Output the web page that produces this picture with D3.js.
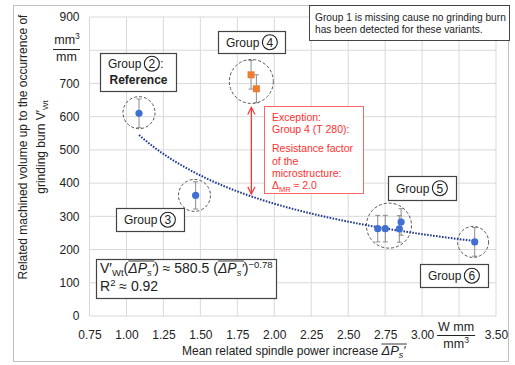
<!DOCTYPE html>
<html>
<head>
<meta charset="utf-8">
<script src="https://cdn.jsdelivr.net/npm/d3@7"></script>
<style>
  body { margin: 0; background: #fff; }
  text { font-family: "Liberation Sans", Arial, sans-serif; }
</style>
</head>
<body>
<div id="chart"></div>
<script>
// x ticks and y ticks of the chart (3.25 and 800 are replaced by the unit labels)
const xTicks = [0.75, 1.00, 1.25, 1.50, 1.75, 2.00, 2.25, 2.50, 2.75, 3.00, 3.25, 3.50];
const xTickLabels = ['0.75', '1.00', '1.25', '1.50', '1.75', '2.00', '2.25', '2.50', '2.75', '3.00', '', '3.50'];
const yTicks = [0, 100, 200, 300, 400, 500, 600, 700, 800, 900];
const yTickLabels = ['0', '100', '200', '300', '400', '500', '600', '700', '', '900'];

// measured points: spindle power increase, machined volume, error (+/-)
const bluePower = [1.085, 1.468, 2.700, 2.751, 2.846, 2.858, 3.356];
const blueVolume = [610, 363, 263, 263, 262, 283, 223];
const blueErr = [43, 41, 40, 40, 40, 40, 43];

// group 4 (T 280) - exception
const orangePower = [1.843, 1.879];
const orangeVolume = [726, 684];
const orangeErr = [43, 42];

// fit  V'Wt = 580.5 * P^-0.78
const fitA = 580.5;
const fitB = -0.78;
const fitRange = [1.085, 3.356];

// dashed group circles (center in data units)
const groupCircleX = [1.085, 1.46, 1.845, 2.776, 3.345];
const groupCircleY = [612, 363, 706, 272, 223];
const groupCircleR = [16, 16, 22, 22.5, 15.5];

const width = 515, height = 365;
const margin = { top: 17, right: 19, bottom: 49, left: 89.5 };

const svg = d3.select('#chart').append('svg')
  .attr('width', width)
  .attr('height', height);

const defs = svg.append('defs');
defs.append('marker')
  .attr('id', 'arrow')
  .attr('viewBox', '0 0 10 10')
  .attr('refX', 9).attr('refY', 5)
  .attr('markerWidth', 9).attr('markerHeight', 9)
  .attr('markerUnits', 'userSpaceOnUse')
  .attr('orient', 'auto-start-reverse')
  .append('path')
  .attr('d', 'M1,1 L9,5 L1,9')
  .attr('fill', 'none')
  .attr('stroke', '#ff3333')
  .attr('stroke-width', 1.3);

// outer frame
svg.append('rect')
  .attr('x', 13.5).attr('y', 5.5)
  .attr('width', 495).attr('height', 356)
  .attr('fill', 'none')
  .attr('stroke', '#c0c0c0');

const x = d3.scaleLinear().domain([0.75, 3.5]).range([margin.left, width - margin.right]);
const y = d3.scaleLinear().domain([0, 900]).range([height - margin.bottom, margin.top]);

// gridlines
svg.append('g')
  .selectAll('line')
  .data(xTicks)
  .join('line')
  .attr('x1', d => x(d)).attr('x2', d => x(d))
  .attr('y1', y(0)).attr('y2', y(900))
  .attr('stroke', '#d9d9d9');

svg.append('g')
  .selectAll('line')
  .data(yTicks)
  .join('line')
  .attr('x1', x(0.75)).attr('x2', x(3.5))
  .attr('y1', d => y(d)).attr('y2', d => y(d))
  .attr('stroke', '#d9d9d9');

// axes (labels only, lines are the grid)
const xAxis = svg.append('g')
  .attr('transform', `translate(0, ${y(0)})`)
  .call(d3.axisBottom(x).tickValues(xTicks).tickSize(0).tickPadding(14)
    .tickFormat((d, i) => xTickLabels[i]));
const yAxis = svg.append('g')
  .attr('transform', `translate(${x(0.75)}, 0)`)
  .call(d3.axisLeft(y).tickValues(yTicks).tickSize(0).tickPadding(10)
    .tickFormat((d, i) => yTickLabels[i]));
[xAxis, yAxis].forEach(a => {
  a.select('.domain').remove();
  a.selectAll('text')
    .attr('font-family', '"Liberation Sans", Arial, sans-serif')
    .attr('font-size', 12)
    .attr('fill', '#222');
});

// lays out a run of text pieces from left to right
function richText(g, x0, y0, pieces, anchor) {
  const grp = g.append('g');
  let cx = x0;
  pieces.forEach(p => {
    const t = grp.append('text')
      .attr('x', cx)
      .attr('y', y0 + (p.dy || 0))
      .attr('font-family', p.family || '"Liberation Sans", Arial, sans-serif')
      .attr('font-size', p.size || 12)
      .attr('font-style', p.italic ? 'italic' : 'normal')
      .attr('font-weight', p.bold ? 'bold' : 'normal')
      .attr('fill', p.color || '#222')
      .text(p.t.replace(/ /g, '\u00A0'));
    const w = t.node().getComputedTextLength();
    if (p.overline) {
      grp.append('line')
        .attr('x1', cx).attr('x2', cx + w + (p.olExtra || 0))
        .attr('y1', y0 - (p.olY || 11)).attr('y2', y0 - (p.olY || 11))
        .attr('stroke', p.color || '#222').attr('stroke-width', 0.9);
    }
    cx += w + (p.after || 0);
  });
  if (anchor === 'middle') grp.attr('transform', `translate(${-(cx - x0) / 2}, 0)`);
  return grp;
}

// fit curve
const fitPts = d3.range(0, 61).map(i => fitRange[0] + (fitRange[1] - fitRange[0]) * i / 60);
svg.append('path')
  .datum(fitPts)
  .attr('d', d3.line().x(d => x(d)).y(d => y(fitA * Math.pow(d, fitB))))
  .attr('fill', 'none')
  .attr('stroke', '#1f3a93')
  .attr('stroke-width', 2)
  .attr('stroke-dasharray', '1.6,1.4');

// error bars
function errBars(px, py, pe) {
  const g = svg.append('g').attr('stroke', '#8c8c8c').attr('stroke-width', 1);
  px.forEach((p, i) => {
    g.append('line').attr('x1', x(p)).attr('x2', x(p)).attr('y1', y(py[i] - pe[i])).attr('y2', y(py[i] + pe[i]));
    g.append('line').attr('x1', x(p) - 2.5).attr('x2', x(p) + 2.5).attr('y1', y(py[i] - pe[i])).attr('y2', y(py[i] - pe[i]));
    g.append('line').attr('x1', x(p) - 2.5).attr('x2', x(p) + 2.5).attr('y1', y(py[i] + pe[i])).attr('y2', y(py[i] + pe[i]));
  });
}
errBars(bluePower, blueVolume, blueErr);
errBars(orangePower, orangeVolume, orangeErr);

svg.append('g')
  .selectAll('circle')
  .data(bluePower)
  .join('circle')
  .attr('cx', d => x(d))
  .attr('cy', (d, i) => y(blueVolume[i]))
  .attr('r', 3.6)
  .attr('fill', '#3f6fd1');

svg.append('g')
  .selectAll('rect')
  .data(orangePower)
  .join('rect')
  .attr('x', d => x(d) - 3.5)
  .attr('y', (d, i) => y(orangeVolume[i]) - 3.5)
  .attr('width', 7).attr('height', 7)
  .attr('fill', '#ed7d31');

// dashed circles around the groups
svg.append('g')
  .selectAll('circle')
  .data(groupCircleX)
  .join('circle')
  .attr('cx', d => x(d))
  .attr('cy', (d, i) => y(groupCircleY[i]))
  .attr('r', (d, i) => groupCircleR[i])
  .attr('fill', 'none')
  .attr('stroke', '#555')
  .attr('stroke-width', 1)
  .attr('stroke-dasharray', '3,2');

// red double arrow (group 4 offset)
svg.append('line')
  .attr('x1', x(1.845)).attr('x2', x(1.845))
  .attr('y1', y(628)).attr('y2', y(367))
  .attr('stroke', '#ff3333')
  .attr('stroke-width', 1.3)
  .attr('marker-start', 'url(#arrow)')
  .attr('marker-end', 'url(#arrow)');

// red exception box
svg.append('rect')
  .attr('x', 264.5).attr('y', 106.5).attr('width', 99).attr('height', 87)
  .attr('fill', '#fff').attr('stroke', '#ff6666');
const redLines = ['Exception:', 'Group 4 (T 280):', 'Resistance factor', 'of the', 'microstructure:'];
const redY = [121, 133, 152, 164.5, 177];
redLines.forEach((t, i) => {
  svg.append('text').attr('x', 272).attr('y', redY[i])
    .attr('font-size', 10.5).attr('fill', '#ff3030').text(t);
});
richText(svg, 272, 189, [
  { t: 'Δ', size: 10.5, color: '#ff3030' },
  { t: 'MR', size: 7.5, dy: 2.5, color: '#ff3030' },
  { t: ' ≈ 2.0', size: 10.5, color: '#ff3030' }
]);

// "group 1 missing" note
svg.append('rect')
  .attr('x', 309.5).attr('y', 5.5).attr('width', 200).attr('height', 35)
  .attr('fill', '#fff').attr('stroke', '#444');
svg.append('text').attr('x', 315).attr('y', 20.5).attr('font-size', 10.2).attr('fill', '#222')
  .text('Group 1 is missing cause no grinding burn');
svg.append('text').attr('x', 315).attr('y', 33).attr('font-size', 10.2).attr('fill', '#222')
  .text('has been detected for these variants.');

// group label boxes with circled numbers
function groupBox(bx, by, bw, bh, num, extra) {
  svg.append('rect')
    .attr('x', bx + 0.5).attr('y', by + 0.5).attr('width', bw).attr('height', bh)
    .attr('fill', '#fff').attr('stroke', '#444').attr('stroke-width', 1.2);
  const ty = extra ? by + 15 : by + bh / 2 + 4.5;
  const t = svg.append('text').attr('x', bx + 8).attr('y', ty)
    .attr('font-size', 12).attr('fill', '#222').text('Group');
  const w = t.node().getComputedTextLength();
  const cx = bx + 8 + w + 10.5;
  svg.append('circle').attr('cx', cx).attr('cy', ty - 4.3).attr('r', 7.5)
    .attr('fill', 'none').attr('stroke', '#222').attr('stroke-width', 1.1);
  svg.append('text').attr('x', cx).attr('y', ty).attr('text-anchor', 'middle')
    .attr('font-size', 12).attr('fill', '#222').text(num);
  if (extra) {
    svg.append('text').attr('x', cx + 8.5).attr('y', ty).attr('font-size', 12).attr('fill', '#222').text(':');
    svg.append('text').attr('x', bx + bw / 2 + 0.5).attr('y', ty + 15.5).attr('text-anchor', 'middle')
      .attr('font-size', 12).attr('font-weight', 'bold').attr('fill', '#222').text(extra);
  }
}
groupBox(100, 53, 76, 38, '2', 'Reference');
groupBox(218, 31, 67, 22, '4');
groupBox(116, 208, 68, 23, '3');
groupBox(388, 176, 68, 24, '5');
groupBox(420, 264, 68, 23, '6');

// fit formula box
svg.append('rect')
  .attr('x', 96.5).attr('y', 259.5).attr('width', 180).attr('height', 39)
  .attr('fill', '#fff').attr('stroke', '#444').attr('stroke-width', 1.2);
const serif = '"Liberation Serif", "Times New Roman", serif';
richText(svg, 100, 273, [
  { t: 'V′', family: serif, size: 14 },
  { t: 'Wt', family: serif, size: 9.5, dy: 3 },
  { t: '(', family: serif, size: 14 },
  { t: 'ΔP', family: serif, size: 14, italic: true, overline: true, olY: 12, olExtra: 7.5 },
  { t: 's', family: serif, size: 9.5, italic: true, dy: 3 },
  { t: '′', family: serif, size: 13, italic: true },
  { t: ') ≈ 580.5 (', family: serif, size: 14 },
  { t: 'ΔP', family: serif, size: 14, italic: true, overline: true, olY: 12, olExtra: 7.5 },
  { t: 's', family: serif, size: 9.5, italic: true, dy: 3 },
  { t: '′', family: serif, size: 13, italic: true },
  { t: ')', family: serif, size: 14 },
  { t: '−0.78', family: serif, size: 9.5, dy: -5.5 }
]);
richText(svg, 100, 291, [
  { t: 'R', family: serif, size: 14 },
  { t: '2', family: serif, size: 9.5, dy: -5.5 },
  { t: ' ≈ 0.92', family: serif, size: 14 }
]);

// y unit  mm³ / mm
richText(svg, 67, 44, [
  { t: 'mm', family: serif, size: 12.5 },
  { t: '3', family: serif, size: 8.5, dy: -5 }
], 'middle');
svg.append('line').attr('x1', 53).attr('x2', 80).attr('y1', 49.5).attr('y2', 49.5)
  .attr('stroke', '#222').attr('stroke-width', 1);
svg.append('text').attr('x', 66.5).attr('y', 61).attr('text-anchor', 'middle')
  .attr('font-family', serif).attr('font-size', 12.5).attr('fill', '#222').text('mm');

// x unit  W mm / mm³
svg.append('text').attr('x', x(3.23)).attr('y', 331).attr('text-anchor', 'middle')
  .attr('font-family', serif).attr('font-size', 12.5).attr('fill', '#222').text('W mm');
svg.append('line').attr('x1', x(3.23) - 19).attr('x2', x(3.23) + 19).attr('y1', 335.5).attr('y2', 335.5)
  .attr('stroke', '#222').attr('stroke-width', 1);
richText(svg, x(3.23), 348, [
  { t: 'mm', family: serif, size: 12.5 },
  { t: '3', family: serif, size: 8.5, dy: -5 }
], 'middle');

// x axis title
richText(svg, 182, 355, [
  { t: 'Mean related spindle power increase ', size: 12 },
  { t: 'ΔP', family: serif, size: 13, italic: true, overline: true, olY: 11, olExtra: 8 },
  { t: 's', family: serif, size: 9, italic: true, dy: 3 },
  { t: '′', family: serif, size: 12, italic: true }
]);

// y axis title (rotated)
const yTitle = svg.append('g').attr('transform', 'translate(27, 147) rotate(-90)');
yTitle.append('text').attr('x', 0).attr('y', 0).attr('text-anchor', 'middle')
  .attr('font-size', 12).attr('fill', '#222')
  .text('Related machined volume up to the occurrence of');
richText(yTitle, 0, 18, [
  { t: 'grinding burn V′', size: 12 },
  { t: 'Wt', size: 8, dy: 3 }
], 'middle');
</script>
</body>
</html>
